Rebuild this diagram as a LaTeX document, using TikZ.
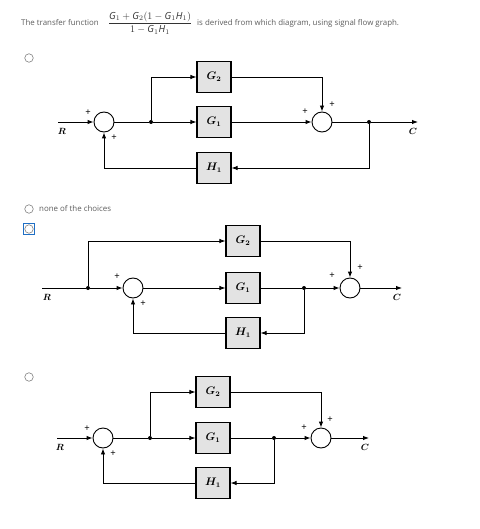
\documentclass[tikz,border=0pt]{standalone}
\usepackage{amsmath}
\usepackage{fontspec}
\setmainfont{Open Sans}
\usepackage{tikz}
\usetikzlibrary{arrows.meta}
\definecolor{txtgray}{HTML}{5E5E5E}
\definecolor{selblue}{HTML}{1F6FC5}
\tikzset{blk/.style={draw,line width=1.1pt,fill=gray!22,minimum width=34pt,minimum height=31pt,inner sep=0pt,font=\fontsize{10.5}{10.5}\selectfont\boldmath}}
\tikzset{sumj/.style={draw,circle,line width=0.9pt,minimum size=20pt,inner sep=0pt}}
\tikzset{dot/.style={circle,fill,inner sep=0pt,minimum size=4pt}}
\tikzset{sgn/.style={font=\fontsize{9.5}{9.5}\selectfont\rmfamily}}
\tikzset{lbl/.style={font=\fontsize{9}{9}\selectfont\boldmath}}
\tikzset{sig/.style={line width=0.9pt}}
\tikzset{opt/.style={draw=gray,circle,line width=0.6pt,minimum size=8.5pt,inner sep=0pt}}
\tikzset{q/.style={text=txtgray,font=\fontsize{7.9}{9}\selectfont,inner sep=0pt}}

\begin{document}
\begin{tikzpicture}[x=1pt,y=-1pt,>={Latex[length=6pt,width=4.5pt]}]
\useasboundingbox[fill=white] (0,0) rectangle (479,529);
% question
\node[q,anchor=west] (qa) at (21,23) {The transfer function};
\node[q,text=black!80,font=\fontsize{9.8}{11}\selectfont] (frac) at (150,23) {$\dfrac{\textit{G}_1+\textit{G}_2(1-\textit{G}_1\textit{H}_1)}{1-\textit{G}_1\textit{H}_1}$};
\node[q,anchor=west] (qb) at (197,23) {is derived from which diagram, using signal flow graph.};
% choices
\node[opt] (o1) at (29,58) {};
\node[opt] (o2) at (29,209) {};
\node[q,anchor=west] (none) at (39,209) {none of the choices};
\node[opt] (o3) at (29,229) {};
\node[draw=selblue,line width=1pt,minimum size=11pt,inner sep=0pt] (sel) at (29,229) {};
\node[opt] (o4) at (29,377) {};

% diagram 1
\coordinate (a-in) at (58,122);
\node[sumj] (a-s1) at (104,122) {};
\node[dot] (a-b1) at (151,122) {};
\node[blk] (a-g2) at (214,77) {$G_2$};
\node[blk] (a-g1) at (214,122) {$G_1$};
\node[blk] (a-h1) at (214,168) {$H_1$};
\node[sumj] (a-s2) at (322,122) {};
\node[dot] (a-b2) at (369,122) {};
\coordinate (a-out) at (418,122);
\draw[sig,->] (a-in) -- (a-s1);
\draw[sig] (a-s1) -- (a-b1);
\draw[sig,->] (a-b1) -- (a-g1);
\draw[sig,->] (a-b1) |- (a-g2);
\draw[sig,->] (a-g1) -- (a-s2);
\draw[sig,->] (a-g2) -| (a-s2);
\draw[sig] (a-s2) -- (a-b2);
\draw[sig,->] (a-b2) -- (a-out);
\draw[sig,->] (a-b2) |- (a-h1);
\draw[sig,->] (a-h1) -| (a-s1);
\node[lbl] (a-r) at (62,131) {$R$};
\node[lbl] (a-c) at (413,131) {$C$};
\node[sgn] at (88,113) {+};
\node[sgn] at (114,138) {+};
\node[sgn] at (305,112) {+};
\node[sgn] at (332,105) {+};

% diagram 2
\coordinate (b-in) at (42,288);
\node[dot] (b-b0) at (88,288) {};
\node[sumj] (b-s1) at (133,288) {};
\node[blk] (b-g2) at (243,241) {$G_2$};
\node[blk] (b-g1) at (243,288) {$G_1$};
\node[blk] (b-h1) at (243,333) {$H_1$};
\node[dot] (b-b1) at (304,288) {};
\node[sumj] (b-s2) at (350,288) {};
\coordinate (b-out) at (402,288);
\draw[sig] (b-in) -- (b-b0);
\draw[sig,->] (b-b0) -- (b-s1);
\draw[sig,->] (b-b0) |- (b-g2);
\draw[sig,->] (b-s1) -- (b-g1);
\draw[sig] (b-g1) -- (b-b1);
\draw[sig,->] (b-b1) -- (b-s2);
\draw[sig,->] (b-g2) -| (b-s2);
\draw[sig,->] (b-s2) -- (b-out);
\draw[sig,->] (b-b1) |- (b-h1);
\draw[sig,->] (b-h1) -| (b-s1);
\node[lbl] (b-r) at (47,297) {$R$};
\node[lbl] (b-c) at (397,297) {$C$};
\node[sgn] at (117,277) {+};
\node[sgn] at (143,304) {+};
\node[sgn] at (332,276) {+};
\node[sgn] at (360,268) {+};

% diagram 3
\coordinate (c-in) at (57,438);
\node[sumj] (c-s1) at (103,438) {};
\node[dot] (c-b1) at (150,438) {};
\node[blk] (c-g2) at (213,392) {$G_2$};
\node[blk] (c-g1) at (213,438) {$G_1$};
\node[blk] (c-h1) at (213,483) {$H_1$};
\node[dot] (c-b2) at (274,438) {};
\node[sumj] (c-s2) at (321,438) {};
\coordinate (c-out) at (369,438);
\draw[sig,->] (c-in) -- (c-s1);
\draw[sig] (c-s1) -- (c-b1);
\draw[sig,->] (c-b1) -- (c-g1);
\draw[sig,->] (c-b1) |- (c-g2);
\draw[sig] (c-g1) -- (c-b2);
\draw[sig,->] (c-b2) -- (c-s2);
\draw[sig,->] (c-g2) -| (c-s2);
\draw[sig,->] (c-s2) -- (c-out);
\draw[sig,->] (c-b2) |- (c-h1);
\draw[sig,->] (c-h1) -| (c-s1);
\node[lbl] (c-r) at (60,447) {$R$};
\node[lbl] (c-c) at (365,447) {$C$};
\node[sgn] at (87,429) {+};
\node[sgn] at (113,454) {+};
\node[sgn] at (304,428) {+};
\node[sgn] at (330,420) {+};
\end{tikzpicture}
\end{document}
